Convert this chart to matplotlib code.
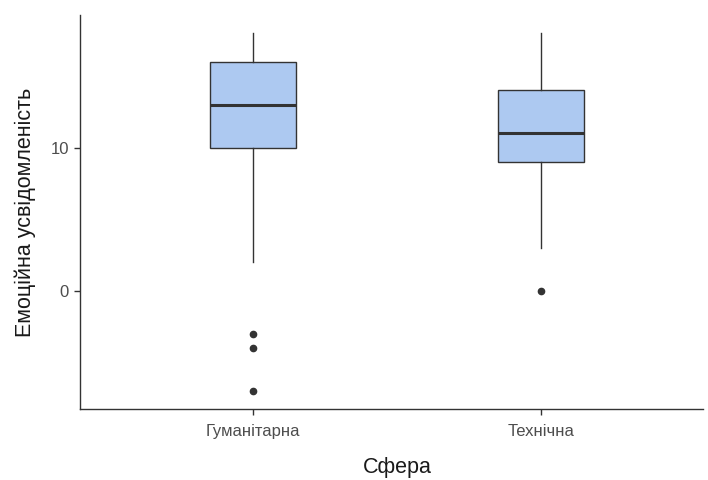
import matplotlib
matplotlib.use("Agg")
from matplotlib import pyplot as plt

plt.rcParams['font.family'] = ['Liberation Sans', 'DejaVu Sans']

# box statistics
categories = ['Гуманітарна', 'Технічна']
whisker_lo = [2, 3]
q1 = [10, 9]
median = [13, 11]
q3 = [16, 14]
whisker_hi = [18, 18]
outliers = [[-3, -4, -7], [0]]

stats = []
for i, name in enumerate(categories):
    stats.append({
        'label': name,
        'whislo': whisker_lo[i],
        'q1': q1[i],
        'med': median[i],
        'q3': q3[i],
        'whishi': whisker_hi[i],
        'fliers': outliers[i],
    })

fig = plt.figure(figsize=(7.08, 4.8), dpi=100)
ax = fig.add_axes([80 / 708, 1 - 409 / 480, 623 / 708, 394 / 480])

edge = '#333333'
ax.bxp(stats, positions=[1, 2], widths=0.30, patch_artist=True,
       showcaps=False,
       boxprops=dict(facecolor='#adc9f1', edgecolor=edge, linewidth=1.0),
       medianprops=dict(color=edge, linewidth=2.2),
       whiskerprops=dict(color=edge, linewidth=1.0),
       flierprops=dict(marker='o', markerfacecolor=edge, markeredgecolor=edge,
                       markersize=4.5))

ax.set_xlim(0.399, 2.5625)
ax.set_ylim(-8.25, 19.25)
ax.set_yticks([0, 10])
ax.set_xticks([1, 2], labels=categories)

for side in ['top', 'right']:
    ax.spines[side].set_visible(False)
for side in ['left', 'bottom']:
    ax.spines[side].set_color(edge)
    ax.spines[side].set_linewidth(1.0)

ax.tick_params(axis='both', colors=edge, length=4, width=1.0,
               labelsize=12, labelcolor='#4d4d4d')
ax.tick_params(axis='x', pad=7)
ax.tick_params(axis='y', pad=4)

ax.set_xlabel('Сфера', fontsize=15.5, color='#1a1a1a')
ax.xaxis.set_label_coords(0.509, -0.123)
ax.xaxis.label.set_verticalalignment('top')
ax.set_ylabel('Емоційна усвідомленість', fontsize=15.5, color='#1a1a1a', labelpad=10)

fig.savefig('out.png', dpi=100)
